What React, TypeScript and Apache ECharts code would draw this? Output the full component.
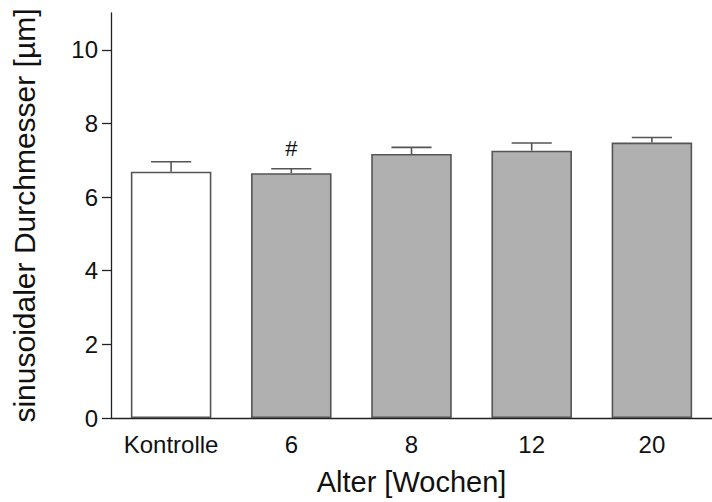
import React, { useEffect, useRef } from "react";
import * as echarts from "echarts";

const categories = ["Kontrolle", "6", "8", "12", "20"];
const means = [6.69, 6.65, 7.17, 7.26, 7.48];
const sem = [0.27, 0.12, 0.18, 0.21, 0.14];
const marks = ["", "#", "", "", ""];
const yTicks = [0, 2, 4, 6, 8, 10];

const FONT = "'Liberation Sans', Arial, sans-serif";
const AXIS = "#222";
const EDGE = "#555";

export default function App() {
  const ref = useRef<HTMLDivElement>(null);
  useEffect(() => {
    document.body.style.margin = "0";
    const chart = echarts.init(ref.current!, null, { renderer: "svg" });
    chart.setOption({
      animation: false,
      backgroundColor: "#fff",
      grid: { left: 111, right: -9, top: 13, bottom: 84 },
      xAxis: {
        type: "category",
        data: categories,
        name: "Alter [Wochen]",
        nameLocation: "middle",
        nameGap: 49,
        nameTextStyle: { fontFamily: FONT, fontSize: 29, color: "#111" },
        axisLine: { lineStyle: { color: AXIS, width: 1.3 } },
        axisTick: { alignWithLabel: true, length: 9, lineStyle: { color: AXIS, width: 1.3 } },
        axisLabel: { fontFamily: FONT, fontSize: 24, color: "#111", margin: 14, interval: 0, hideOverlap: false },
      },
      yAxis: {
        type: "value",
        min: 0,
        max: 11,
        interval: 2,
        name: "sinusoidaler Durchmesser [µm]",
        nameLocation: "middle",
        nameGap: 72,
        nameTextStyle: { fontFamily: FONT, fontSize: 30, color: "#111" },
        axisLine: { show: true, lineStyle: { color: AXIS, width: 1.3 } },
        axisTick: { show: true, length: 9, customValues: yTicks, lineStyle: { color: AXIS, width: 1.3 } },
        axisLabel: { fontFamily: FONT, fontSize: 24, color: "#111", margin: 13, customValues: yTicks },
        splitLine: { show: false },
      },
      series: [
        {
          type: "bar",
          barWidth: "67%",
          data: means.map((v, i) => ({
            value: v,
            itemStyle: { color: i === 0 ? "#ffffff" : "#b0b0b0", borderColor: EDGE, borderWidth: 1.6 },
          })),
        },
        {
          type: "custom",
          z: 5,
          encode: { x: 0, y: 1 },
          data: categories.map((_, i) => [i, means[i], sem[i]]),
          renderItem: (params: any, api: any) => {
            const i = api.value(0);
            const m = api.value(1);
            const e = api.value(2);
            const base = api.coord([i, m]);
            const top = api.coord([i, m + e]);
            const band = api.size([1, 0])[0];
            const half = band * 0.167;
            const st = { stroke: EDGE, lineWidth: 1.6 };
            const children: any[] = [
              { type: "line", shape: { x1: base[0], y1: base[1], x2: top[0], y2: top[1] }, style: st },
              { type: "line", shape: { x1: top[0] - half, y1: top[1], x2: top[0] + half, y2: top[1] }, style: st },
            ];
            const mk = marks[params.dataIndex];
            if (mk) {
              children.push({
                type: "text",
                x: top[0],
                y: top[1] - 9,
                style: { text: mk, fontSize: 22, fontFamily: FONT, fill: "#111", align: "center", verticalAlign: "bottom" },
              });
            }
            return { type: "group", children };
          },
        },
      ],
    });
    return () => chart.dispose();
  }, []);
  return <div ref={ref} style={{ position: "absolute", left: 0, top: 0, width: 712, height: 502 }} />;
}
